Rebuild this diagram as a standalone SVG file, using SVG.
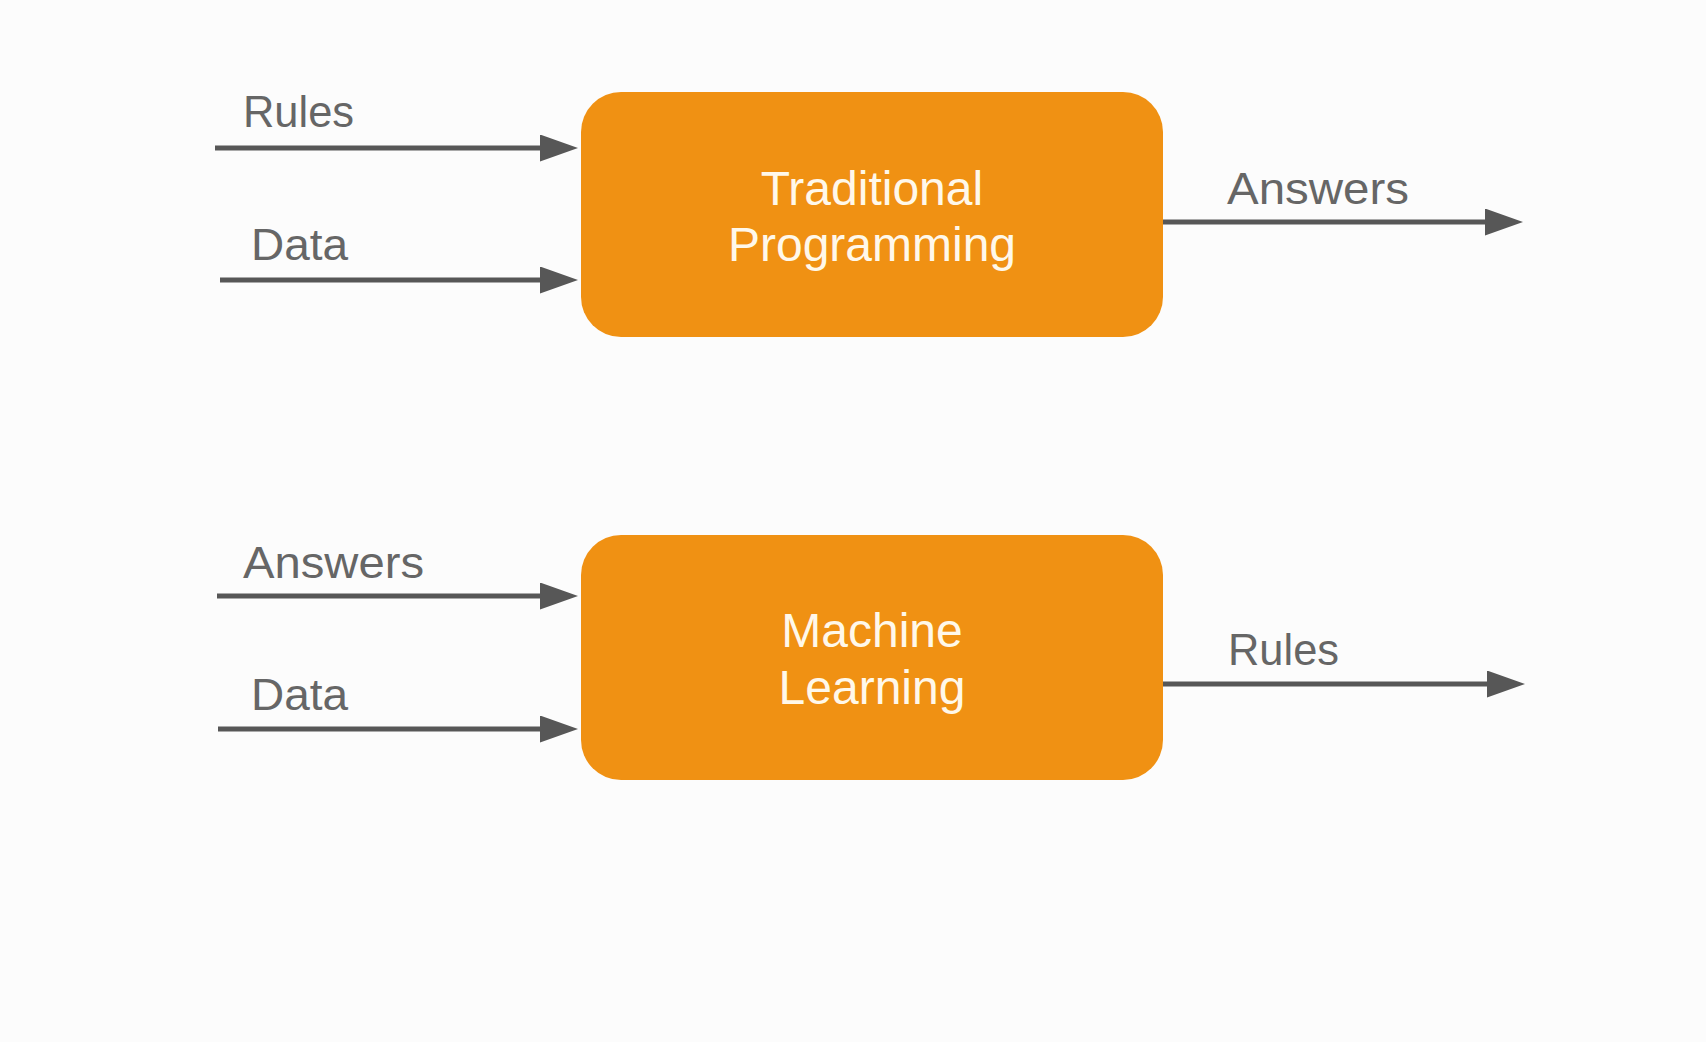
<svg xmlns="http://www.w3.org/2000/svg" width="1706" height="1042" viewBox="0 0 1706 1042">
<style>
.box{fill:#F09113;}
.btxt{font-family:"Liberation Sans",Arial,sans-serif;font-size:48px;fill:#FFF8EA;text-anchor:middle;}
.lbl{font-family:"Liberation Sans",Arial,sans-serif;font-size:45px;fill:#666666;}
.conn{stroke:#575757;stroke-width:5;fill:none;}
</style>
<defs>
<marker id="arr" markerUnits="userSpaceOnUse" markerWidth="40" markerHeight="28" refX="4" refY="13.5" orient="auto" viewBox="0 0 40 28">
<path d="M0,0 L38,13.5 L0,27 z" fill="#575757"/>
</marker>
</defs>
<rect width="1706" height="1042" fill="#FCFCFC"/>
<g id="traditional">
<rect class="box" x="581" y="92" width="582" height="245" rx="40" ry="40"/>
<text class="btxt" x="872" y="205">Traditional</text>
<text class="btxt" x="872" y="261">Programming</text>
</g>
<g id="ml">
<rect class="box" x="581" y="535" width="582" height="245" rx="40" ry="40"/>
<text class="btxt" x="872" y="647">Machine</text>
<text class="btxt" x="872" y="704">Learning</text>
</g>
<g id="connectors">
<line class="conn" x1="215" y1="148" x2="544" y2="148" marker-end="url(#arr)"/>
<line class="conn" x1="220" y1="280" x2="544" y2="280" marker-end="url(#arr)"/>
<line class="conn" x1="1163" y1="222" x2="1489" y2="222" marker-end="url(#arr)"/>
<line class="conn" x1="217" y1="596" x2="544" y2="596" marker-end="url(#arr)"/>
<line class="conn" x1="218" y1="729" x2="544" y2="729" marker-end="url(#arr)"/>
<line class="conn" x1="1163" y1="684" x2="1491" y2="684" marker-end="url(#arr)"/>
</g>
<g id="labels">
<text class="lbl" x="243" y="127" textLength="111" lengthAdjust="spacingAndGlyphs">Rules</text>
<text class="lbl" x="251" y="260" textLength="97" lengthAdjust="spacingAndGlyphs">Data</text>
<text class="lbl" x="1227" y="204" textLength="182" lengthAdjust="spacingAndGlyphs">Answers</text>
<text class="lbl" x="243" y="578" textLength="181" lengthAdjust="spacingAndGlyphs">Answers</text>
<text class="lbl" x="251" y="710" textLength="97" lengthAdjust="spacingAndGlyphs">Data</text>
<text class="lbl" x="1228" y="665" textLength="111" lengthAdjust="spacingAndGlyphs">Rules</text>
</g>
</svg>
